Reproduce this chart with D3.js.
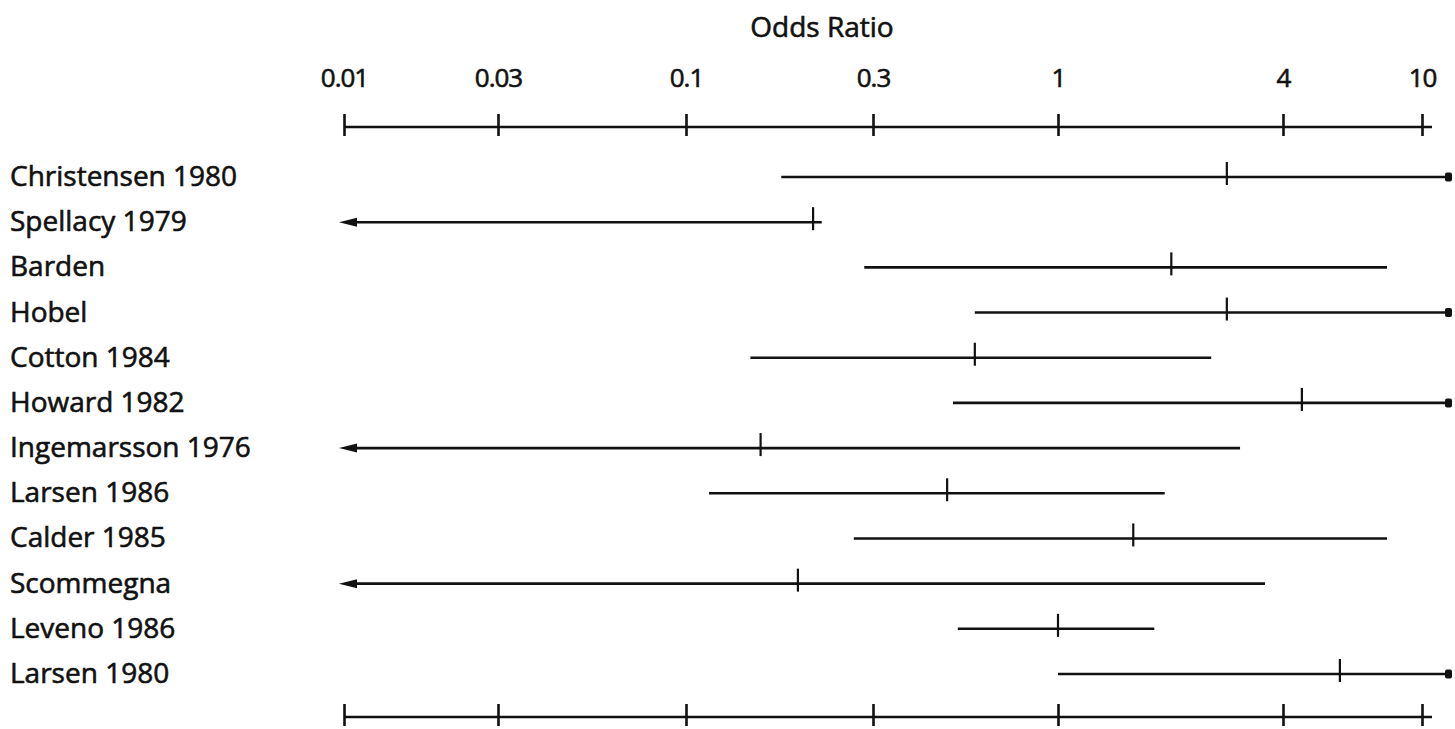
<!DOCTYPE html>
<html lang="en">
  <head>
    <title>Odds Ratio forest plot</title>
    <script src="https://d3js.org/d3.v7.min.js"></script>
    <style>
      body { margin: 0; background: #fff; }
      text { font-family: "Open Sans", sans-serif; fill: #111; stroke: #111; stroke-width: 0.6px; }
    </style>
  </head>
  <body>
  <script>
  const width = 1455;
  const height = 729;

  // studies, top to bottom
  const studies = ["Christensen 1980", "Spellacy 1979", "Barden", "Hobel", "Cotton 1984", "Howard 1982",
    "Ingemarsson 1976", "Larsen 1986", "Calder 1985", "Scommegna", "Leveno 1986", "Larsen 1980"];
  // odds ratio and 95% limits; null = off the scale (arrow on the left, dot on the right)
  const oddsRatio = [2.83, 0.211, 2.01, 2.83, 0.582, 4.53, 0.155, 0.486, 1.59, 0.193, 1.0, 5.82];
  const lower = [0.175, null, 0.285, 0.582, 0.146, 0.505, null, 0.1145, 0.268, null, 0.521, 1.0];
  const upper = [null, 0.222, 7.94, null, 2.57, null, 3.07, 1.93, 7.94, 3.58, 1.81, null];

  // axis ticks and their labels
  const tickValues = [0.01, 0.03, 0.1, 0.3, 1, 4, 10];
  const tickLabels = ["0.01", "0.03", "0.1", "0.3", "1", "4", "10"];

  // the printed axis is not evenly spaced, so map each tick to where it sits
  const x = d3.scaleLog()
    .domain(tickValues)
    .range([344, 498, 686, 873, 1058, 1283, 1422]);

  const y = d3.scalePoint().domain(studies).range([177, 674]);

  const svg = d3.select(document.body).append('svg').attr('width', width).attr('height', height);

  const axisTopY = 127;
  const axisBottomY = 717;
  const axisEnd = x(10) + 10;
  const offEnd = x(10) + 27;

  svg.append("text")
    .attr("x", 822)
    .attr("y", 37)
    .attr("text-anchor", "middle")
    .attr("font-size", "28px")
    .text("Odds Ratio");

  function drawAxis(yPos, withLabels) {
    const g = svg.append("g").attr("transform", "translate(0," + yPos + ")");
    const axis = d3.axisTop(x)
      .tickValues(tickValues)
      .tickFormat((d, i) => withLabels ? tickLabels[i] : "")
      .tickSizeOuter(0);
    g.call(axis);
    g.select(".domain").remove();
    g.selectAll(".tick line")
      .attr("y1", -13)
      .attr("y2", 9)
      .attr("stroke", "#111")
      .attr("stroke-width", 2.6);
    g.selectAll(".tick text")
      .attr("y", -40)
      .attr("dy", 0)
      .attr("font-size", "26px")
      .attr("font-family", "Open Sans, sans-serif")
      .attr("letter-spacing", "-1px")
      .attr("fill", "#111");
    g.append("line")
      .attr("x1", x(0.01))
      .attr("x2", axisEnd)
      .attr("stroke", "#111")
      .attr("stroke-width", 2.6);
  }

  drawAxis(axisTopY, true);
  drawAxis(axisBottomY, false);

  // row labels
  svg.selectAll("text.study")
    .data(studies)
    .enter().append("text")
    .attr("class", "study")
    .attr("x", 10)
    .attr("y", d => y(d) + 9)
    .attr("font-size", "28px")
    .text(d => d);

  const rows = svg.selectAll("g.row")
    .data(studies)
    .enter().append("g")
    .attr("class", "row")
    .attr("transform", d => "translate(0," + y(d) + ")");

  // confidence interval
  rows.append("line")
    .attr("x1", (d, i) => lower[i] === null ? x(0.01) + 8 : x(lower[i]))
    .attr("x2", (d, i) => upper[i] === null ? offEnd - 3 : x(upper[i]))
    .attr("stroke", "#111")
    .attr("stroke-width", 2.6);

  // left arrows for limits below 0.01
  rows.filter((d, i) => lower[i] === null)
    .append("path")
    .attr("d", () => {
      const x0 = x(0.01) - 5;
      return "M" + x0 + ",0L" + (x0 + 18) + ",-4.5L" + (x0 + 18) + ",4.5Z";
    })
    .attr("fill", "#111");

  // dots for limits beyond 10
  rows.filter((d, i) => upper[i] === null)
    .append("rect")
    .attr("x", offEnd - 4)
    .attr("y", -4.5)
    .attr("width", 7)
    .attr("height", 9)
    .attr("rx", 2)
    .attr("fill", "#111");

  // point estimate
  rows.append("line")
    .attr("x1", (d, i) => x(oddsRatio[i]))
    .attr("x2", (d, i) => x(oddsRatio[i]))
    .attr("y1", -15)
    .attr("y2", 8)
    .attr("stroke", "#111")
    .attr("stroke-width", 2.2);
  </script>
  </body>
</html>
